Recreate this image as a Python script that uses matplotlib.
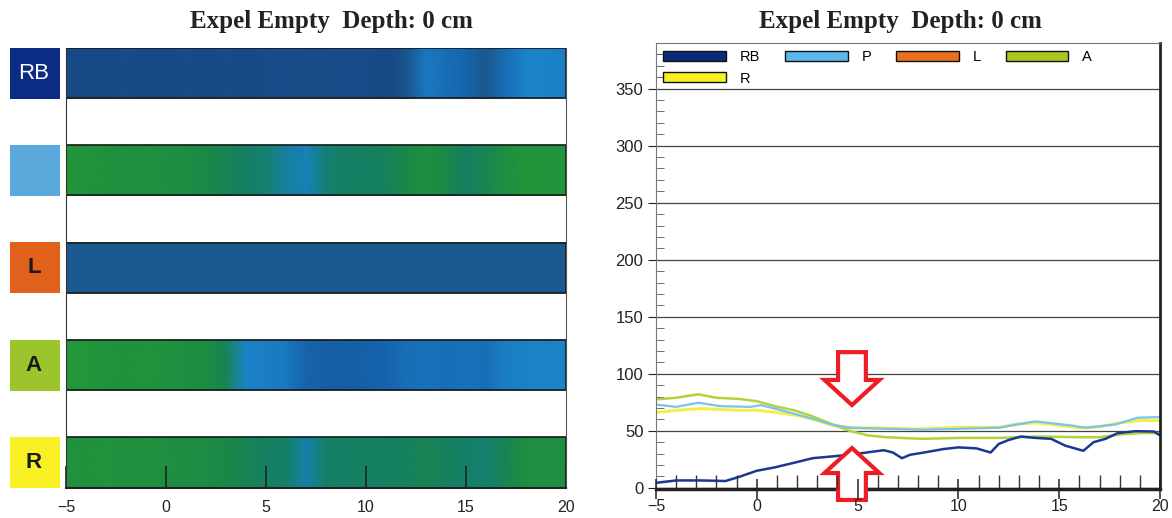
import matplotlib
matplotlib.use("Agg")
import matplotlib.pyplot as plt
import matplotlib.transforms as mtransforms
import numpy as np
from matplotlib.colors import LinearSegmentedColormap
from matplotlib.patches import Rectangle, Polygon, Patch
from matplotlib.ticker import MultipleLocator

# ---------------- data ----------------
title_text = "Expel Empty  Depth: 0 cm"
sensors = ["RB", "P", "L", "A", "R"]
box_labels = ["RB", "", "L", "A", "R"]
box_colors = ["#0c2c84", "#5aa8dc", "#e0601c", "#9cc42c", "#f8f024"]
legend_colors = ["#0a2a7a", "#5ab8ec", "#e8701e", "#a8c820", "#f8f020"]

heat_x = list(range(-5, 21))
heat_RB = [0.05, 0.05, 0.05, 0.06, 0.05, 0.05, 0.06, 0.05, 0.06, 0.05, 0.06, 0.07, 0.08,
           0.08, 0.07, 0.06, 0.05, 0.15, 0.45, 0.4, 0.35, 0.2, 0.4, 0.5, 0.5, 0.48]
heat_P = [1.0, 0.98, 0.97, 0.96, 0.97, 0.95, 0.93, 0.9, 0.85, 0.78, 0.72, 0.62, 0.55,
          0.7, 0.78, 0.8, 0.82, 0.9, 0.95, 0.9, 0.8, 0.86, 0.95, 1.0, 0.98, 1.0]
heat_L = [0.22] * 26
heat_A = [1.0, 1.0, 0.98, 0.97, 0.98, 0.97, 0.95, 0.93, 0.85, 0.5, 0.48, 0.45, 0.35,
          0.32, 0.32, 0.33, 0.35, 0.4, 0.42, 0.4, 0.42, 0.4, 0.48, 0.5, 0.5, 0.5]
heat_R = [0.98, 0.97, 0.98, 0.96, 0.97, 0.95, 0.94, 0.92, 0.9, 0.85, 0.8, 0.78, 0.6,
          0.75, 0.8, 0.8, 0.8, 0.82, 0.85, 0.82, 0.75, 0.72, 0.85, 0.95, 0.95, 0.95]
heat_rows = [heat_RB, heat_P, heat_L, heat_A, heat_R]

rb_x = [-5, -4, -2.75, -1.55, -0.9, 0, 0.9, 1.85, 2.77, 3.7, 4.6, 5.7, 6.3, 6.75, 7.2, 7.6,
        8.3, 9.25, 10, 10.9, 11.6, 12, 12.5, 13.1, 13.8, 14.6, 15.3, 15.9, 16.2, 16.7,
        17.3, 17.9, 18.8, 19.7, 20]
rb_y = [4.4, 6.5, 6.5, 6, 9.5, 15, 18, 22, 26, 27.5, 29, 31.6, 33, 31, 26, 29,
        31, 34, 35.5, 34.6, 31, 38.5, 42, 45, 43.8, 43, 37, 34, 32.5, 40,
        43, 48, 49.7, 49.4, 46]
p_x = [-5, -4, -2.9, -1.8, -0.3, 0.2, 0.9, 2.77, 3.7, 4.6, 6.4, 8.3, 10.1, 12, 13.8,
       15.6, 16.3, 17.8, 18.9, 20]
p_y = [73, 71, 74.6, 71.6, 71, 72.5, 69.5, 60.6, 55.6, 52.7, 51.8, 51, 51.8, 52.7, 58.3,
       54.7, 52.7, 55.6, 61.5, 62]
a_x = [-5, -4, -2.9, -2, -0.9, 0, 0.9, 1.85, 2.77, 3.7, 4.6, 5.5, 6.4, 7.5, 8.3, 10, 12,
       14, 16, 17, 18, 19, 20]
a_y = [77.5, 79, 82, 79, 78, 76, 71.6, 68, 62.7, 56, 50, 46, 44.4, 43.5, 43, 43.8, 43.8,
       45, 44.4, 44.4, 46.7, 48, 48]
r_x = [-5, -4, -2.75, -1, 0, 1, 2, 3, 3.7, 4.6, 6, 8, 10, 12, 12.9, 13.8, 15, 16, 17, 18,
       19, 20]
r_y = [66, 68, 69.5, 68, 68, 66, 63.6, 59, 55, 52.7, 52.5, 51.5, 53, 53, 56, 57, 55, 52.5,
       53.5, 57, 59, 59]
line_colors = {"RB": "#1a3890", "P": "#78c4ec", "A": "#b4d23c", "R": "#f2f048"}

x_ticks = [-5, 0, 5, 10, 15, 20]
y_ticks = [0, 50, 100, 150, 200, 250, 300, 350]

# arrow annotations (data coords on right chart)
arrow_x = 4.72

# ---------------- figure ----------------
plt.rcParams['font.family'] = ['Liberation Sans', 'DejaVu Sans']
fig = plt.figure(figsize=(11.72, 5.18), dpi=100)

# ---- left heatmap ----
axL = fig.add_axes([66 / 1172, 30 / 518, 500 / 1172, 440 / 518])
cmap = LinearSegmentedColormap.from_list("press", [
    (0.0, "#0f3a7a"), (0.05, "#184a88"), (0.22, "#1a5a90"), (0.33, "#1560a8"),
    (0.45, "#1a78c0"), (0.5, "#1a82c8"), (0.6, "#1580a8"), (0.7, "#158072"),
    (0.8, "#158062"), (0.9, "#1a8848"), (1.0, "#22963a")])
bar_h = 0.515
blend = mtransforms.blended_transform_factory(axL.transAxes, axL.transData)
for i, row in enumerate(heat_rows):
    X = np.array([heat_x, heat_x])
    Y = np.array([[i] * len(heat_x), [i + bar_h] * len(heat_x)])
    C = np.array([row, row])
    axL.pcolormesh(X, Y, C, shading='gouraud', cmap=cmap, vmin=0, vmax=1, zorder=1)
    axL.add_patch(Rectangle((-5, i), 25, bar_h, fill=False, edgecolor="#1a1a1a",
                            lw=1.2, zorder=2))
    axL.add_patch(Rectangle((-0.113, i - 0.005), 0.1, bar_h + 0.01, transform=blend,
                            facecolor=box_colors[i], edgecolor='none', clip_on=False))
    if box_labels[i]:
        txt_col = "white" if i == 0 else "#1a1a1a"
        wt = "normal" if i == 0 else "bold"
        axL.text(-0.064, i + bar_h / 2, box_labels[i], color=txt_col, fontsize=16,
                 fontweight=wt, ha="center", va="center", transform=blend, clip_on=False)
axL.set_xlim(-5, 20)
axL.set_ylim(4 + bar_h + 0.005, 0)
axL.set_yticks([])
axL.set_xticks(x_ticks)
axL.tick_params(axis='x', direction='in', length=16, width=1.2, labelsize=11.5, pad=9,
                colors="#222222")
axL.spines["top"].set_visible(False)
axL.spines["left"].set_color("#333333")
axL.spines["right"].set_color("#555555")
axL.spines["right"].set_linewidth(0.8)
axL.spines["bottom"].set_color("#222222")
axL.spines["bottom"].set_linewidth(1.5)
fig.text(331 / 1172, 1 - 28 / 518, title_text, fontsize=18, fontweight='bold',
         family=['Liberation Serif', 'DejaVu Serif'], ha='center', va='baseline',
         color="#222222")

# ---- right line chart ----
axR = fig.add_axes([656 / 1172, 29 / 518, 504 / 1172, 446 / 518])
axR.set_xlim(-5, 20)
axR.set_ylim(-1, 390)
axR.plot(r_x, r_y, color=line_colors["R"], lw=2.2, zorder=2)
axR.plot(a_x, a_y, color=line_colors["A"], lw=1.8, zorder=2)
axR.plot(p_x, p_y, color=line_colors["P"], lw=1.6, zorder=2)
axR.plot(rb_x, rb_y, color=line_colors["RB"], lw=1.8, zorder=2)

axR.set_yticks(y_ticks)
axR.yaxis.set_minor_locator(MultipleLocator(10))
axR.grid(axis='y', which='major', color="#444444", lw=0.9)
axR.tick_params(axis='y', which='major', direction='out', length=6, labelsize=12,
                colors="#222222", pad=3)
axR.tick_params(axis='y', which='minor', direction='in', length=6, color="#555555")
axR.set_xticks(x_ticks)
axR.xaxis.set_minor_locator(MultipleLocator(1))
axR.tick_params(axis='x', which='major', direction='inout', length=14, width=1.1,
                labelsize=11.5, colors="#222222", pad=0)
axR.tick_params(axis='x', which='minor', direction='in', length=10, width=1.0,
                color="#333333")
axR.spines["left"].set_color("#777777")
axR.spines["top"].set_color("#777777")
axR.spines["right"].set_color("#222222")
axR.spines["right"].set_linewidth(2)
axR.spines["bottom"].set_color("#222222")
axR.spines["bottom"].set_linewidth(2.5)
axR.xaxis.set_zorder(6)

order = [0, 4, 1, 2, 3]
handles = [Patch(facecolor=legend_colors[k], edgecolor="#111111", lw=1.0) for k in order]
labels = [sensors[k] for k in order]
axR.legend(handles, labels, ncol=4, loc='upper left', bbox_to_anchor=(0.0, 1.0),
           frameon=False, fontsize=10.5, handlelength=4.3, handleheight=0.68,
           handletextpad=0.95, columnspacing=1.7, labelspacing=0.5, borderaxespad=0,
           borderpad=0.5)

# hollow red arrows
shaft_w = 0.69
head_w = 1.36
down = [(arrow_x - shaft_w, 119), (arrow_x + shaft_w, 119), (arrow_x + shaft_w, 94.6),
        (arrow_x + head_w, 94.6), (arrow_x, 72.6), (arrow_x - head_w, 94.6),
        (arrow_x - shaft_w, 94.6)]
up = [(arrow_x - shaft_w, -10.6), (arrow_x + shaft_w, -10.6), (arrow_x + shaft_w, 13),
      (arrow_x + head_w, 13), (arrow_x, 34.9), (arrow_x - head_w, 13),
      (arrow_x - shaft_w, 13)]
for pts in (down, up):
    axR.add_patch(Polygon(pts, closed=True, facecolor="white", edgecolor="#ee1c24",
                          lw=3, zorder=5, clip_on=False, joinstyle='miter'))

fig.text(900 / 1172, 1 - 28 / 518, title_text, fontsize=18, fontweight='bold',
         family=['Liberation Serif', 'DejaVu Serif'], ha='center', va='baseline',
         color="#222222")

fig.savefig("out.png", dpi=100, facecolor="white")
